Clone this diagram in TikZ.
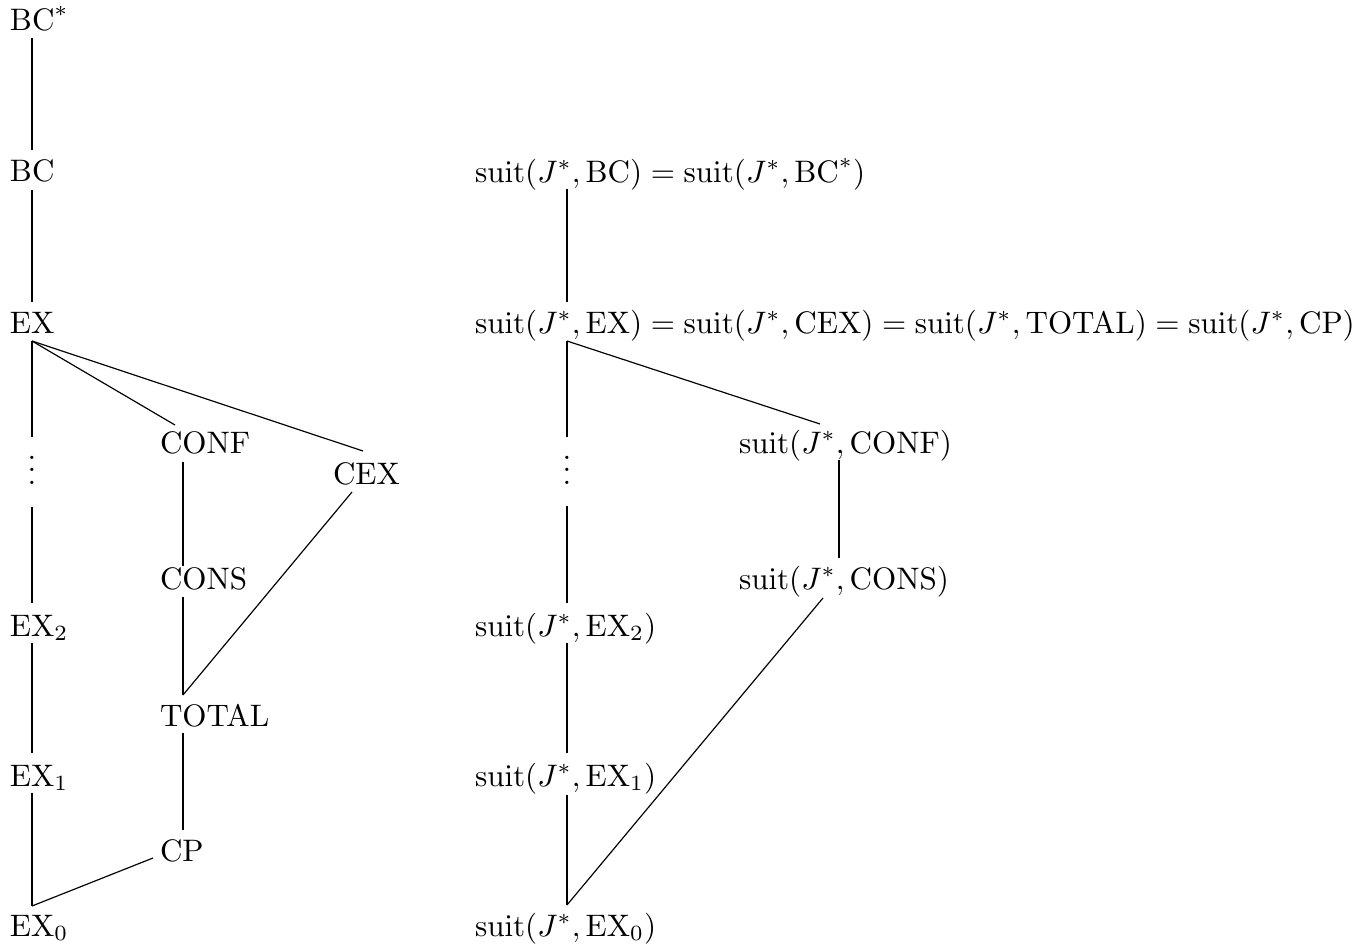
\documentclass[tikz,border=0pt]{standalone}
\begin{document}
\begin{tikzpicture}[x=0.339pt,y=-0.339pt,
  vtx/.style={inner sep=0pt, outer sep=0pt, anchor=base west, scale=1.054},
  vdt/.style={inner sep=0pt, outer sep=0pt, anchor=base, scale=1.054},
  edge/.style={line width=0.4pt}]
\useasboundingbox (0,0) rectangle (1372,947);
% ---------- left diagram ----------
\node[vtx] (bcs)   at (10,30)  {$\mathrm{BC}^*$};
\node[vtx] (bc)    at (10,181) {$\mathrm{BC}$};
\node[vtx] (ex)    at (10,333) {$\mathrm{EX}$};
\node[vdt] (ldots) at (32,484) {$\vdots$};
\node[vtx] (ex2)   at (10,636) {$\mathrm{EX}_2$};
\node[vtx] (ex1)   at (10,786) {$\mathrm{EX}_1$};
\node[vtx] (ex0)   at (10,936) {$\mathrm{EX}_0$};
\node[vtx] (conf)  at (160,453) {$\mathrm{CONF}$};
\node[vtx] (cex)   at (333,484) {$\mathrm{CEX}$};
\node[vtx] (cons)  at (160,589) {$\mathrm{CONS}$};
\node[vtx] (total) at (160,726) {$\mathrm{TOTAL}$};
\node[vtx] (cp)    at (160,861) {$\mathrm{CP}$};
% attachment points
\coordinate (bcs-s)   at (32,38);
\coordinate (bc-n)    at (32,150);
\coordinate (bc-s)    at (32,190);
\coordinate (ex-n)    at (32,302);
\coordinate (ex-s)    at (32,341);
\coordinate (ldots-n) at (32,437);
\coordinate (ldots-s) at (32,507);
\coordinate (ex2-n)   at (32,603);
\coordinate (ex2-s)   at (32,643);
\coordinate (ex1-n)   at (32,753);
\coordinate (ex1-s)   at (32,793);
\coordinate (ex0-n)   at (32,906);
\coordinate (conf-n)  at (175,425);
\coordinate (conf-s)  at (183,462);
\coordinate (cex-n)   at (363,451);
\coordinate (cex-s)   at (352,492);
\coordinate (cons-n)  at (183,566);
\coordinate (cons-s)  at (183,597);
\coordinate (total-n) at (183,695);
\coordinate (total-s) at (183,733);
\coordinate (cp-n)    at (183,830);
\coordinate (cp-w)    at (153,858);
\draw[edge] (bcs-s) -- (bc-n);
\draw[edge] (bc-s) -- (ex-n);
\draw[edge] (ex-s) -- (ldots-n);
\draw[edge] (ex-s) -- (conf-n);
\draw[edge] (ex-s) -- (cex-n);
\draw[edge] (ldots-s) -- (ex2-n);
\draw[edge] (ex2-s) -- (ex1-n);
\draw[edge] (ex1-s) -- (ex0-n);
\draw[edge] (conf-s) -- (cons-n);
\draw[edge] (cons-s) -- (total-n);
\draw[edge] (cex-s) -- (total-n);
\draw[edge] (total-s) -- (cp-n);
\draw[edge] (cp-w) -- (ex0-n);
% ---------- right diagram ----------
\node[vtx] (r1)     at (475,182) {$\mathrm{suit}(J^*,\mathrm{BC})=\mathrm{suit}(J^*,\mathrm{BC}^*)$};
\node[vtx] (r2)     at (475,333) {$\mathrm{suit}(J^*,\mathrm{EX})=\mathrm{suit}(J^*,\mathrm{CEX})=\mathrm{suit}(J^*,\mathrm{TOTAL})=\mathrm{suit}(J^*,\mathrm{CP})$};
\node[vdt] (rdots)  at (567,484) {$\vdots$};
\node[vtx] (rconf)  at (739,453) {$\mathrm{suit}(J^*,\mathrm{CONF})$};
\node[vtx] (rcons)  at (739,589) {$\mathrm{suit}(J^*,\mathrm{CONS})$};
\node[vtx] (rex2)   at (475,636) {$\mathrm{suit}(J^*,\mathrm{EX}_2)$};
\node[vtx] (rex1)   at (475,786) {$\mathrm{suit}(J^*,\mathrm{EX}_1)$};
\node[vtx] (rex0)   at (475,936) {$\mathrm{suit}(J^*,\mathrm{EX}_0)$};
\coordinate (r1-s)     at (567,189);
\coordinate (r2-n)     at (567,302);
\coordinate (r2-s)     at (567,341);
\coordinate (rdots-n)  at (567,437);
\coordinate (rdots-s)  at (567,506);
\coordinate (rconf-n)  at (820,424);
\coordinate (rconf-s)  at (839,460);
\coordinate (rcons-n)  at (839,558);
\coordinate (rcons-s)  at (823,598);
\coordinate (rex2-n)   at (567,603);
\coordinate (rex2-s)   at (567,643);
\coordinate (rex1-n)   at (567,753);
\coordinate (rex1-s)   at (567,795);
\coordinate (rex0-n)   at (567,905);
\draw[edge] (r1-s) -- (r2-n);
\draw[edge] (r2-s) -- (rdots-n);
\draw[edge] (r2-s) -- (rconf-n);
\draw[edge] (rdots-s) -- (rex2-n);
\draw[edge] (rconf-s) -- (rcons-n);
\draw[edge] (rex2-s) -- (rex1-n);
\draw[edge] (rex1-s) -- (rex0-n);
\draw[edge] (rcons-s) -- (rex0-n);
\end{tikzpicture}
\end{document}
